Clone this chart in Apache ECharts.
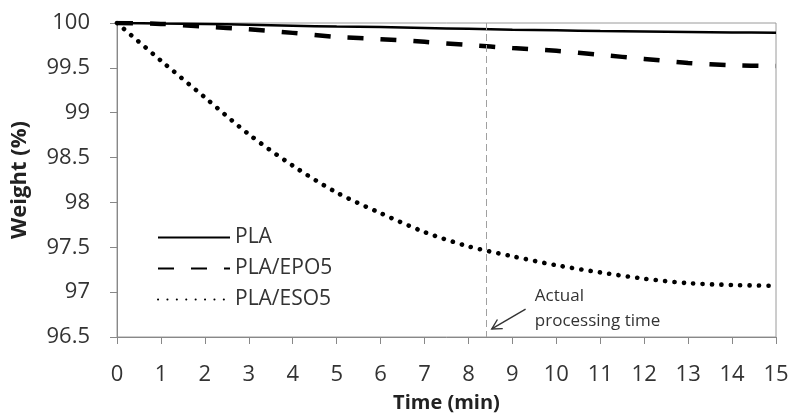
<!DOCTYPE html>
<html>
<head>
<meta charset="utf-8">
<script src="https://cdn.jsdelivr.net/npm/echarts@6/dist/echarts.min.js"></script>
<style>html,body{margin:0;padding:0;background:#fff}#c{width:788px;height:418px}</style>
</head>
<body>
<div id="c"></div>
<script>
var times = [0,1,2,3,4,5,6,7,8,9,10,11,12,13,14,15];
var pla   = [100,99.995,99.99,99.98,99.97,99.96,99.955,99.945,99.935,99.925,99.92,99.91,99.905,99.9,99.895,99.89];
var epo5  = [100,99.99,99.96,99.93,99.89,99.845,99.82,99.79,99.755,99.72,99.69,99.645,99.60,99.555,99.53,99.52];
var eso5  = [100,99.58,99.17,98.76,98.41,98.11,97.88,97.67,97.51,97.40,97.30,97.22,97.15,97.10,97.08,97.07];
var seriesNames = ['PLA','PLA/EPO5','PLA/ESO5'];
var processingTime = 8.4;
var annotationLines = ['Actual','processing time'];

function pairs(v){ return times.map(function(t,i){ return [t, v[i]]; }); }

var FONT = '"Open Sans", "Liberation Sans", sans-serif';
var chart = echarts.init(document.getElementById('c'), null, {renderer:'canvas'});
chart.setOption({
  animation:false,
  backgroundColor:'#fff',
  grid:{left:117, right:12, top:23, bottom:81, outerBoundsMode:'none', containLabel:false,
        show:true, borderColor:'#9a9a9a', borderWidth:1},
  legend:{
    orient:'vertical', left:152, top:222, itemWidth:72, itemHeight:14, itemGap:10,
    itemStyle:{opacity:0},
    textStyle:{fontFamily:FONT, fontSize:21, color:'#333'},
    data:seriesNames
  },
  xAxis:{
    type:'value', min:0, max:15, interval:1,
    name:'Time (min)', nameLocation:'middle', nameGap:56,
    nameTextStyle:{fontFamily:FONT, fontSize:20, fontWeight:'bold', color:'#222'},
    axisLine:{lineStyle:{color:'#888', width:1}},
    axisTick:{show:true, inside:false, length:7, lineStyle:{color:'#888'}},
    axisLabel:{fontFamily:FONT, fontSize:22, color:'#333', margin:27},
    splitLine:{show:false}
  },
  yAxis:{
    type:'value', min:96.5, max:100, interval:0.5,
    name:'Weight (%)', nameLocation:'middle', nameGap:86, nameRotate:90,
    nameTextStyle:{fontFamily:FONT, fontSize:22, fontWeight:'bold', color:'#222'},
    axisLine:{show:true, lineStyle:{color:'#888', width:1}},
    axisTick:{show:true, inside:false, length:7, lineStyle:{color:'#888'}},
    axisLabel:{fontFamily:FONT, fontSize:22, color:'#333', margin:27},
    splitLine:{show:false}
  },
  series:[
    {name:seriesNames[0], type:'line', data:pairs(pla), symbol:'none', smooth:0.3,
     lineStyle:{color:'#000', width:2.5}, itemStyle:{color:'#000'}, z:3},
    {name:seriesNames[1], type:'line', data:pairs(epo5), symbol:'none', smooth:0.3,
     lineStyle:{color:'#000', width:4.5, type:[16,17]}, itemStyle:{color:'#000'}, z:3},
    {name:seriesNames[2], type:'line', data:pairs(eso5), symbol:'none', smooth:0.3,
     lineStyle:{color:'#000', width:4.6, type:[0.1,9.3], cap:'round'}, itemStyle:{color:'#000'}, z:3,
     markLine:{silent:true, symbol:['none','none'], label:{show:false},
       lineStyle:{color:'#a0a0a0', width:1, type:[7,4]},
       data:[[{coord:[processingTime,100]},{coord:[processingTime,96.5]}]]}}
  ]
});

function placeAnnotation(){
  var a1 = chart.convertToPixel({gridIndex:0},[9.3,96.81]);
  var a2 = chart.convertToPixel({gridIndex:0},[8.53,96.59]);
  var t1 = chart.convertToPixel({gridIndex:0},[9.51,96.96]);
  var t2 = chart.convertToPixel({gridIndex:0},[9.51,96.68]);
  var dx = a1[0]-a2[0], dy = a1[1]-a2[1], L = Math.sqrt(dx*dx+dy*dy);
  var ux = dx/L, uy = dy/L, h = 11, w = 0.5;
  var p1 = [a2[0]+h*(ux*Math.cos(w)-uy*Math.sin(w)), a2[1]+h*(ux*Math.sin(w)+uy*Math.cos(w))];
  var p2 = [a2[0]+h*(ux*Math.cos(-w)-uy*Math.sin(-w)), a2[1]+h*(ux*Math.sin(-w)+uy*Math.cos(-w))];
  chart.setOption({graphic:[
    {type:'line', shape:{x1:a1[0],y1:a1[1],x2:a2[0],y2:a2[1]}, style:{stroke:'#333', lineWidth:1.4}},
    {type:'polyline', shape:{points:[p1,a2,p2]}, style:{stroke:'#333', lineWidth:1.4, fill:null}},
    {type:'text', x:t1[0], y:t1[1], style:{text:annotationLines[0], font:'17px '+FONT, fill:'#333', verticalAlign:'middle'}},
    {type:'text', x:t2[0], y:t2[1], style:{text:annotationLines[1], font:'17px '+FONT, fill:'#333', verticalAlign:'middle'}}
  ]});
}
placeAnnotation();
</script>
</body>
</html>
